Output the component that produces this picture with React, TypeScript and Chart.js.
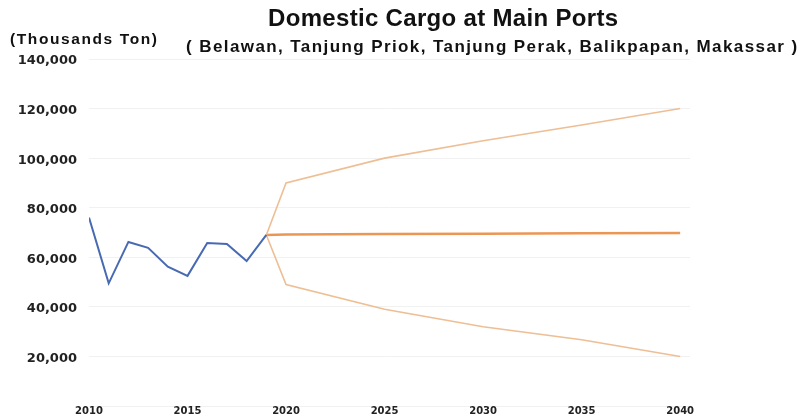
import React, { useEffect, useRef } from "react";
import { Chart, registerables } from "chart.js";

Chart.register(...registerables);

// Recorded domestic cargo throughput (thousand tons)
const actualYears = [2010, 2011, 2012, 2013, 2014, 2015, 2016, 2017, 2018, 2019];
const actualCargo = [76000, 49500, 66200, 63800, 56200, 52500, 65800, 65400, 58500, 69000];

// Projection scenarios from 2019 onward
const projectionYears = [2019, 2020, 2025, 2030, 2035, 2040];
const projectionBase = [69000, 69200, 69400, 69500, 69700, 69800];
const projectionHigh = [69000, 90000, 100000, 107000, 113400, 120000];
const projectionLow = [69000, 49000, 39000, 32000, 26700, 20000];

const yTickValues = [0, 20000, 40000, 60000, 80000, 100000, 120000, 140000];
const xTickYears = [2010, 2015, 2020, 2025, 2030, 2035, 2040];

const titleText = "Domestic Cargo at Main Ports";
const subtitleText = "( Belawan, Tanjung Priok, Tanjung Perak, Balikpapan, Makassar )";
const unitText = "(Thousands Ton)";

const toPoints = (xs: number[], ys: number[]) => xs.map((x, i) => ({ x, y: ys[i] }));

// Draws a string so it spans a given width, adjusting letter spacing as needed
function fitText(
  ctx: CanvasRenderingContext2D,
  text: string,
  x: number,
  y: number,
  width: number,
  font: string
) {
  ctx.save();
  ctx.font = font;
  ctx.textAlign = "left";
  ctx.textBaseline = "middle";
  ctx.fillStyle = "#111";
  const w = ctx.measureText(text).width;
  const spacing = (width - w) / Math.max(1, text.length - 1);
  (ctx as any).letterSpacing = spacing.toFixed(2) + "px";
  ctx.fillText(text, x, y);
  ctx.restore();
}

const headerPlugin = {
  id: "header",
  afterDraw(chart: Chart) {
    const ctx = chart.ctx;
    fitText(ctx, titleText, 268, 19, 350, "bold 24px 'Liberation Sans', Arial, sans-serif");
    fitText(ctx, subtitleText, 186, 47, 611, "bold 17px 'Liberation Sans', Arial, sans-serif");
    fitText(ctx, unitText, 10, 40, 147, "bold 15.5px 'Liberation Sans', Arial, sans-serif");
  },
};

export default function App() {
  const canvasRef = useRef<HTMLCanvasElement | null>(null);

  useEffect(() => {
    const canvas = canvasRef.current;
    if (!canvas) return;
    const chart = new Chart(canvas, {
      type: "line",
      data: {
        datasets: [
          {
            label: "Actual",
            data: toPoints(actualYears, actualCargo),
            borderColor: "rgb(72,106,178)",
            borderWidth: 2,
            pointRadius: 0,
            tension: 0,
          },
          {
            label: "High",
            data: toPoints(projectionYears, projectionHigh),
            borderColor: "rgb(238,190,148)",
            borderWidth: 1.6,
            pointRadius: 0,
            tension: 0,
          },
          {
            label: "Low",
            data: toPoints(projectionYears, projectionLow),
            borderColor: "rgb(238,190,148)",
            borderWidth: 1.6,
            pointRadius: 0,
            tension: 0,
          },
          {
            label: "Base",
            data: toPoints(projectionYears, projectionBase),
            borderColor: "rgb(236,150,84)",
            borderWidth: 2.5,
            pointRadius: 0,
            tension: 0,
          },
        ],
      },
      options: {
        responsive: false,
        animation: false,
        devicePixelRatio: 1,
        layout: { padding: { top: 59, right: 112, bottom: 0, left: 0 } },
        plugins: {
          legend: { display: false },
          title: { display: false },
          tooltip: { enabled: false },
        },
        scales: {
          x: {
            type: "linear",
            min: 2010,
            max: 2040.5,
            border: { display: false },
            grid: { display: false, drawTicks: false },
            afterBuildTicks(scale: any) {
              scale.ticks = xTickYears.map((v) => ({ value: v }));
            },
            afterFit(scale: any) {
              scale.height = 14;
            },
            ticks: {
              padding: -1,
              maxRotation: 0,
              autoSkip: false,
              color: "#222",
              font: { family: "'DejaVu Sans'", size: 10, weight: "bold" },
              callback: (v: any) => String(v),
            },
          },
          y: {
            min: 0,
            max: 140000,
            border: { display: false },
            grid: { color: "#f1f1f1", lineWidth: 1, drawTicks: false },
            afterBuildTicks(scale: any) {
              scale.ticks = yTickValues.map((v) => ({ value: v }));
            },
            afterFit(scale: any) {
              scale.width = 89;
              scale.paddingTop = 0;
              scale.paddingBottom = 0;
            },
            ticks: {
              padding: 12,
              labelOffset: 2,
              color: "#222",
              font: { family: "'DejaVu Sans'", size: 13, weight: "bold" },
              callback: (v: any) => (Number(v) === 0 ? "" : Number(v).toLocaleString("en-US")),
            },
          },
        },
      },
      plugins: [headerPlugin],
    });
    return () => chart.destroy();
  }, []);

  return (
    <div style={{ position: "fixed", left: 0, top: 0, width: 802, height: 420, background: "#fff" }}>
      <canvas ref={canvasRef} width={802} height={420} style={{ display: "block" }} />
    </div>
  );
}
